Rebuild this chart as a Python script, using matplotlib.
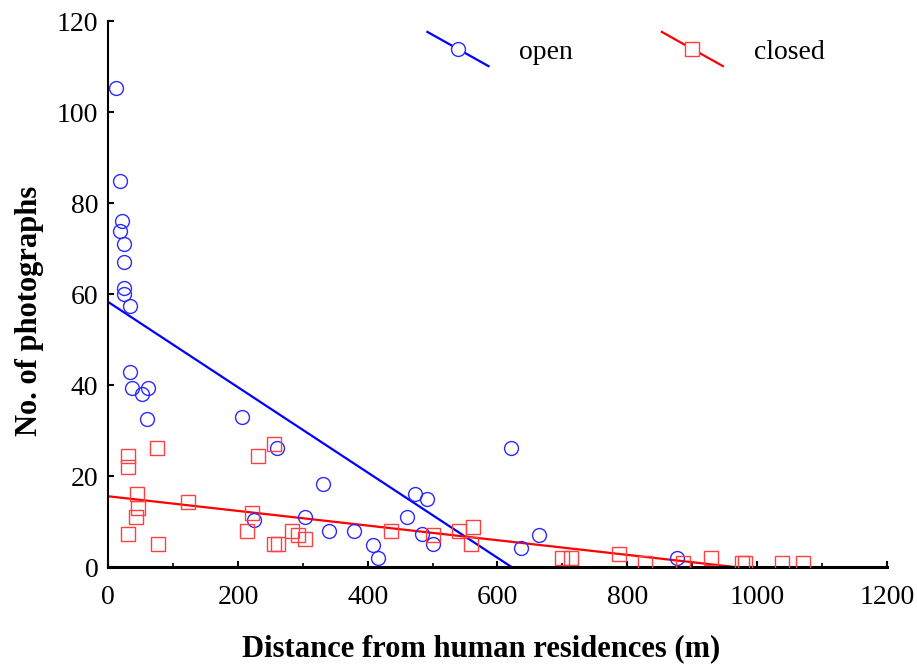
import numpy as np
import matplotlib
matplotlib.use('Agg')
import matplotlib.pyplot as plt
from matplotlib.legend_handler import HandlerLine2D
from matplotlib.lines import Line2D

plt.rcParams['font.family'] = ['Liberation Serif', 'DejaVu Serif']

# open habitat: distance (m), no. of photographs
open_x = [12, 18, 18, 22, 25, 25, 25, 25, 34, 34, 37, 52, 62, 60, 206, 260, 225,
          304, 331, 340, 379, 408, 416, 461, 473, 492, 484, 501, 621, 636, 664, 877]
open_y = [105.3, 85, 74, 76, 71, 67, 61.3, 60, 57.4, 43, 39.3, 38, 39.3, 32.5, 33,
          26.2, 10.3, 11, 18.2, 7.9, 7.9, 4.8, 2, 11, 16, 15, 7.3, 5, 26.2, 4.2, 7, 2]

# closed habitat
closed_x = [31, 31, 75, 45, 46, 43, 31, 77, 123, 231, 256, 222, 214, 256, 262, 284,
            293, 303, 436, 501, 541, 562, 559, 700, 713, 787, 827, 886, 929, 977,
            981, 1039, 1071]
closed_y = [24.4, 22, 26.2, 16, 13, 11, 7.3, 5, 14.3, 24.4, 27, 12, 8, 5, 5, 7.9,
            7, 6.2, 7.9, 7, 7.9, 8.8, 5, 2, 2, 3, 0.9, 0.9, 2, 0.9, 0.9, 0.9, 0.9]

# fitted lines (intercept, slope)
open_fit = (58.3, -0.0937)
closed_fit = (15.6, -0.0161)


class DiagHandler(HandlerLine2D):
    # legend key drawn as a descending diagonal line with the marker in the middle
    def create_artists(self, legend, orig_handle, xdescent, ydescent, width, height, fontsize, trans):
        x0, x1 = -xdescent, -xdescent + width
        y0, y1 = -ydescent + height * 1.38, -ydescent - height * 0.38
        ln = Line2D([x0, x1], [y0, y1], color=orig_handle.get_color(), lw=orig_handle.get_linewidth())
        mk = Line2D([(x0 + x1) / 2], [(y0 + y1) / 2], marker=orig_handle.get_marker(),
                    markersize=orig_handle.get_markersize(), markerfacecolor='white',
                    markeredgecolor=orig_handle.get_markeredgecolor(),
                    markeredgewidth=orig_handle.get_markeredgewidth(), linestyle='none')
        ln.set_transform(trans)
        mk.set_transform(trans)
        return [ln, mk]


fig = plt.figure(figsize=(9.17, 6.65), dpi=100)
ax = fig.add_axes([0.118, 0.147, 0.849, 0.821])

ax.plot(open_x, open_y, 'o', mfc='none', mec='#2a2aff', ms=10, mew=1.0, zorder=3)
ax.plot(closed_x, closed_y, 's', mfc='none', mec='#ff4040', ms=10, mew=1.0, zorder=3)

xo = np.array([0, -open_fit[0] / open_fit[1]])
xc = np.array([0, -closed_fit[0] / closed_fit[1]])
ax.plot(xo, open_fit[0] + open_fit[1] * xo, color='#0000ff', lw=1.6, zorder=2)
ax.plot(xc, closed_fit[0] + closed_fit[1] * xc, color='#ff0000', lw=1.6, zorder=2)

h_open = Line2D([], [], color='#0000ff', lw=1.6, marker='o', ms=10, mec='#2a2aff', mew=1.0)
h_closed = Line2D([], [], color='#ff0000', lw=1.6, marker='s', ms=10, mec='#ff4040', mew=1.0)
ax.legend([h_open, h_closed], ['open', 'closed'], ncol=2, frameon=False,
          loc='upper left', bbox_to_anchor=(0.41, 0.967), fontsize=20,
          borderpad=0, borderaxespad=0,
          handlelength=2.2, handletextpad=1.1, columnspacing=3.2,
          handler_map={Line2D: DiagHandler()})

ax.set_xlim(0, 1200)
ax.set_ylim(0, 120)
ax.set_xticks(np.arange(0, 1201, 200))
ax.set_xticks(np.arange(0, 1201, 100), minor=True)
ax.set_yticks(np.arange(0, 121, 20))
ax.spines['top'].set_visible(False)
ax.spines['right'].set_visible(False)
ax.spines['left'].set_linewidth(1.5)
ax.spines['bottom'].set_linewidth(2.2)
ax.tick_params(direction='in', length=4, width=1.5, labelsize=20)
ax.tick_params(axis='x', pad=13)
ax.tick_params(axis='y', pad=7)
ax.tick_params(which='minor', direction='in', length=3, width=1.2)

ax.set_xlabel('Distance from human residences (m)', fontsize=22, fontweight='bold', labelpad=17)
ax.set_ylabel('No. of photographs', fontsize=22, fontweight='bold', labelpad=9)
ax.xaxis.label.set_x(0.479)
ax.yaxis.label.set_y(0.469)

fig.savefig('out.png', dpi=100)
